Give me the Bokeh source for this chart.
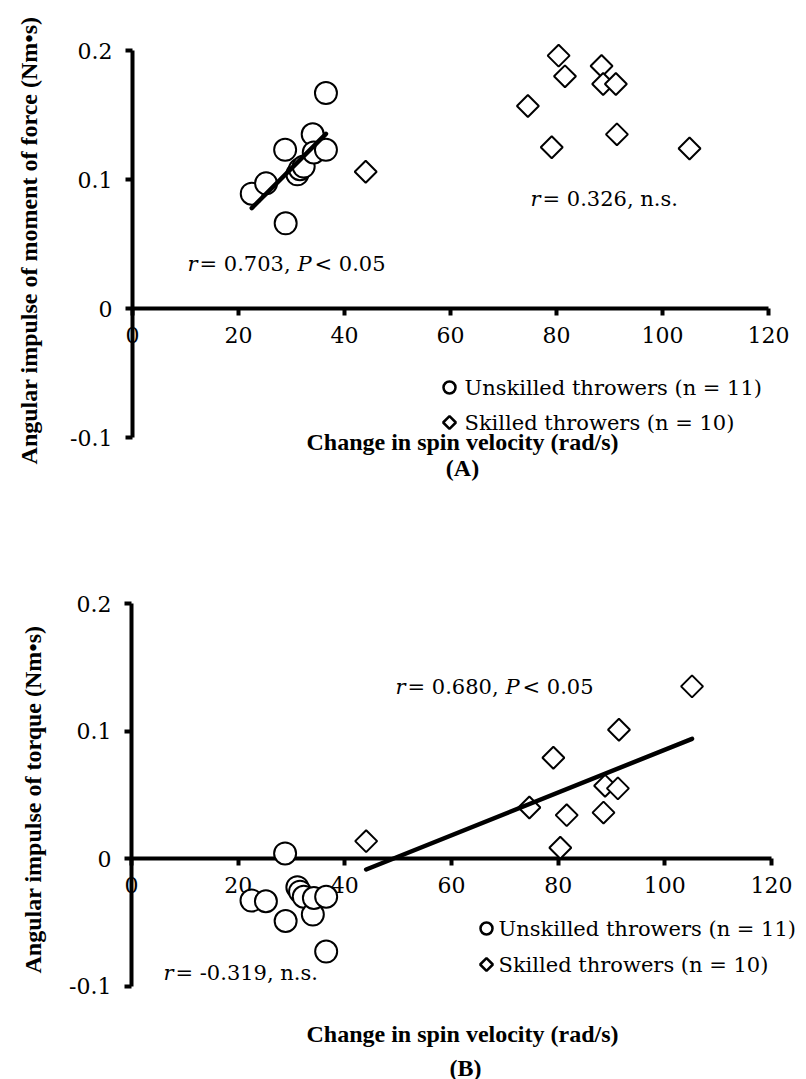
import numpy as np
from bokeh.plotting import figure
from bokeh.models import Range1d, LinearAxis, FixedTicker, Label
from bokeh.layouts import column
from bokeh.embed import file_html
from bokeh.resources import INLINE

# ---------------- data ----------------
unskilled_velocity = [22.5, 25.2, 28.8, 28.9, 31.1, 31.6, 32.3, 34.0, 34.2, 36.5, 36.5]
unskilled_moment = [0.089, 0.097, 0.123, 0.066, 0.104, 0.108, 0.110, 0.135, 0.121, 0.167, 0.123]
unskilled_torque = [-0.033, -0.0335, 0.004, -0.049, -0.0225, -0.026, -0.030, -0.044, -0.031, -0.030, -0.073]

skilled_velocity = [44.0, 74.6, 79.1, 80.4, 81.6, 88.5, 88.8, 91.2, 91.4, 105.1]
skilled_moment = [0.106, 0.157, 0.125, 0.196, 0.180, 0.188, 0.174, 0.174, 0.135, 0.124]
skilled_torque = [0.0136, 0.040, 0.079, 0.0084, 0.034, 0.036, 0.057, 0.055, 0.101, 0.135]

x_ticks = [0, 20, 40, 60, 80, 100, 120]
y_ticks = [-0.1, 0, 0.1, 0.2]
y_tick_labels = ["-0.1", "0", "0.1", "0.2"]

legend_labels = ["Unskilled throwers (n = 11)", "Skilled throwers (n = 10)"]
x_title = "Change in spin velocity (rad/s)"

W = 804
SERIF = "DejaVu Serif"
TITLE_FONT = "Liberation Serif"


def make_panel(height, top_ref, x0_ref, x120_ref, y0_ref, ky):
    kx = (x120_ref - x0_ref) / 120.0
    x0 = x0_ref
    y0 = y0_ref - top_ref

    def conv(rx, ry):
        return (rx - x0_ref) / kx, (y0_ref - ry) / ky

    p = figure(width=W, height=height, output_backend="svg", toolbar_location=None,
               x_range=Range1d(-x0 / kx, (W - x0) / kx),
               y_range=Range1d((y0 - height) / ky, y0 / ky),
               x_axis_type=None, y_axis_type=None, min_border=0,
               outline_line_color=None, background_fill_color="white",
               border_fill_color="white")

    common = dict(axis_line_width=4, axis_line_color="black",
                  major_tick_line_width=4, major_tick_line_color="black",
                  major_tick_out=7, major_tick_in=0,
                  minor_tick_out=0, minor_tick_in=0,
                  major_label_text_font=SERIF, major_label_text_font_size="22px",
                  major_label_text_color="black", level="underlay")
    xa = LinearAxis(fixed_location=0, bounds=(0, 120),
                    ticker=FixedTicker(ticks=x_ticks), major_label_standoff=11, **common)
    p.add_layout(xa, "below")
    ya = LinearAxis(fixed_location=0, bounds=(-0.1, 0.2),
                    ticker=FixedTicker(ticks=y_ticks),
                    major_label_overrides={float(k): v for k, v in zip(y_ticks, y_tick_labels)},
                    major_label_standoff=13, **common)
    p.add_layout(ya, "left")
    return p, conv


def add_label(p, conv, rx, ry, text, size="21px", font=SERIF, style="normal",
              align="left", angle=0.0, x_offset=0):
    x, y = conv(rx, ry)
    p.add_layout(Label(x=x, y=y, text=text, text_font=font, text_font_size=size,
                       text_font_style=style, text_align=align, text_baseline="middle",
                       text_color="black", angle=angle, x_offset=x_offset))


def add_stat(p, conv, rx, ry, pieces):
    for text, style, off in pieces:
        add_label(p, conv, rx, ry, text, style=style, x_offset=off)


def add_points(p, ys_u, ys_s):
    p.scatter(unskilled_velocity, ys_u, marker="circle", size=22,
              line_color="black", line_width=2, fill_color="white")
    p.scatter(skilled_velocity, ys_s, marker="square", angle=np.pi / 4, size=15.5,
              line_color="black", line_width=2, fill_color="white")


def add_fit(p, xs, ys):
    k, b = np.polyfit(xs, ys, 1)
    xl = [min(xs), max(xs)]
    p.line(xl, [k * v + b for v in xl], line_width=4.5, line_color="black", line_cap="round")


def add_legend(p, conv, mx, my1, my2, tx):
    x1, y1 = conv(mx, my1)
    x2, y2 = conv(mx, my2)
    p.scatter([x1], [y1], marker="circle", size=12, line_color="black",
              line_width=2.5, fill_color="white")
    p.scatter([x2], [y2], marker="square", angle=np.pi / 4, size=9, line_color="black",
              line_width=2.5, fill_color="white")
    add_label(p, conv, tx, my1, legend_labels[0])
    add_label(p, conv, tx, my2, legend_labels[1])


# ---------------- panel A ----------------
p1, c1 = make_panel(540, 0, 132, 768, 308, 1290.0)
add_points(p1, unskilled_moment, skilled_moment)
add_fit(p1, unskilled_velocity, unskilled_moment)
add_stat(p1, c1, 187, 263, [("r", "italic", 0), ("= 0.703, ", "normal", 12),
                             ("P", "italic", 110), ("< 0.05", "normal", 127)])
add_stat(p1, c1, 530, 198, [("r", "italic", 0), ("= 0.326, n.s.", "normal", 12)])
add_legend(p1, c1, 449, 387, 422, 464)
add_label(p1, c1, 28, 240, "Angular impulse of moment of force (Nm\u2022s)", size="24px",
          font=TITLE_FONT, style="bold", align="center", angle=np.pi / 2)
add_label(p1, c1, 462, 441, x_title, size="24px", font=TITLE_FONT, style="bold", align="center")
add_label(p1, c1, 462, 467, "(A)", size="24px", font=TITLE_FONT, style="bold", align="center")

# ---------------- panel B ----------------
p2, c2 = make_panel(539, 540, 131, 771, 858, 1275.0)
add_points(p2, unskilled_torque, skilled_torque)
add_fit(p2, skilled_velocity, skilled_torque)
add_stat(p2, c2, 395, 686, [("r", "italic", 0), ("= 0.680, ", "normal", 12),
                             ("P", "italic", 110), ("< 0.05", "normal", 127)])
add_stat(p2, c2, 163, 972, [("r", "italic", 0), ("= -0.319, n.s.", "normal", 12)])
add_legend(p2, c2, 486, 928, 964, 498)
add_label(p2, c2, 32, 799, "Angular impulse of torque (Nm\u2022s)", size="24px",
          font=TITLE_FONT, style="bold", align="center", angle=np.pi / 2)
add_label(p2, c2, 462, 1033, x_title, size="24px", font=TITLE_FONT, style="bold", align="center")
add_label(p2, c2, 465, 1067, "(B)", size="24px", font=TITLE_FONT, style="bold", align="center")

layout = column(p1, p2, spacing=0)
open("out.html", "w").write(file_html(layout, INLINE))
